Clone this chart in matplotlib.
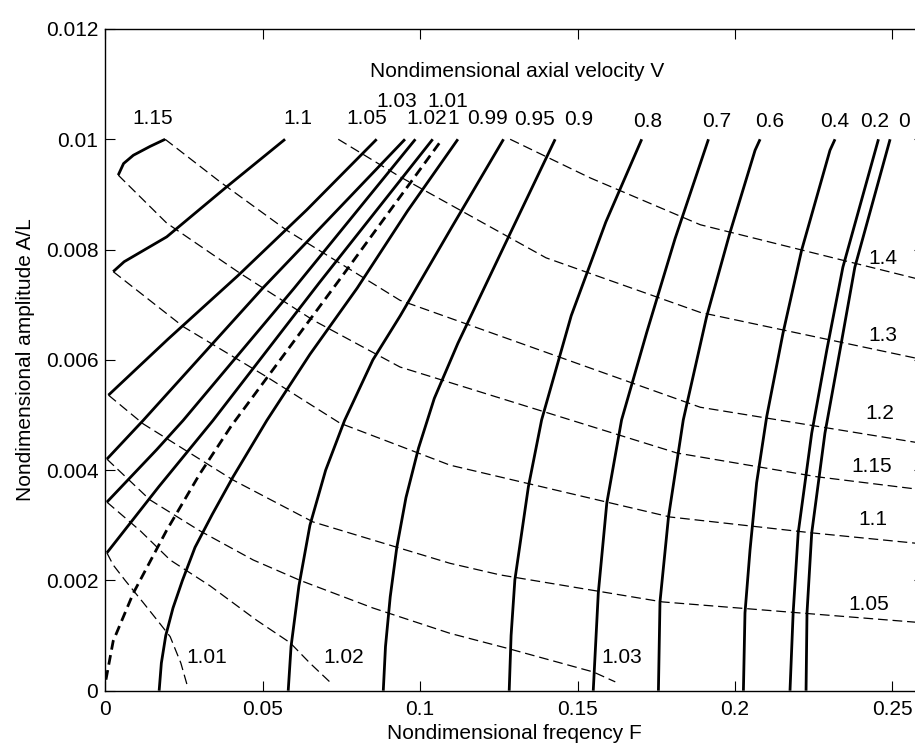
import matplotlib
matplotlib.use("Agg")

import matplotlib.pyplot as plt

plt.rcParams["font.family"] = ["Liberation Sans", "DejaVu Sans"]
plt.rcParams["lines.scale_dashes"] = False

# ---- stable branches (solid), V < 1 ----
v099_F = [0.0171, 0.0178, 0.0192, 0.0215, 0.0245, 0.0285, 0.034, 0.0406, 0.0513, 0.065, 0.080, 0.096, 0.112]
v099_A = [0.0, 0.0005, 0.0010, 0.0015, 0.0020, 0.0026, 0.0032, 0.00388, 0.0049, 0.0061, 0.0073, 0.0087, 0.0100]
v095_F = [0.0581, 0.0590, 0.0615, 0.0650, 0.0700, 0.0760, 0.0850, 0.0937, 0.110, 0.1265]
v095_A = [0.0, 0.0008, 0.0019, 0.0030, 0.0040, 0.0049, 0.0060, 0.0068, 0.0084, 0.0100]
v090_F = [0.0883, 0.0890, 0.0905, 0.0926, 0.0955, 0.0995, 0.1045, 0.112, 0.127, 0.1429]
v090_A = [0.0, 0.0008, 0.0017, 0.0026, 0.0035, 0.0044, 0.0053, 0.0063, 0.0081, 0.0100]
v080_F = [0.1283, 0.1289, 0.1301, 0.1344, 0.1386, 0.148, 0.159, 0.1704]
v080_A = [0.0, 0.0010, 0.00201, 0.0037, 0.00491, 0.0068, 0.0085, 0.0100]
v070_F = [0.155, 0.1566, 0.1593, 0.164, 0.172, 0.181, 0.1916]
v070_A = [0.0, 0.00177, 0.0034, 0.00491, 0.0065, 0.0082, 0.0100]
v060_F = [0.1757, 0.1762, 0.1789, 0.1836, 0.191, 0.1984, 0.2064, 0.208]
v060_A = [0.0, 0.00161, 0.00315, 0.00491, 0.00678, 0.0083, 0.0098, 0.0100]
v040_F = [0.2027, 0.2032, 0.2048, 0.2069, 0.2101, 0.2153, 0.2212, 0.2302, 0.2318]
v040_A = [0.0, 0.00141, 0.00255, 0.00377, 0.00497, 0.00649, 0.00799, 0.0098, 0.0100]
v020_F = [0.2175, 0.2185, 0.2201, 0.2244, 0.2292, 0.2343, 0.2456]
v020_A = [0.0, 0.00141, 0.00286, 0.00467, 0.00618, 0.00768, 0.0100]
v000_F = [0.2226, 0.2229, 0.2244, 0.2286, 0.2334, 0.2381, 0.2493]
v000_A = [0.0, 0.00141, 0.00286, 0.00467, 0.00618, 0.00768, 0.0100]

# ---- stable branches (solid), V > 1 ----
v115_F = [0.0041, 0.0058, 0.0089, 0.0142, 0.019]
v115_A = [0.00935, 0.00956, 0.00971, 0.00987, 0.0100]
v110_F = [0.0025, 0.0060, 0.0195, 0.0386, 0.0571]
v110_A = [0.0076, 0.00778, 0.00823, 0.00914, 0.0100]
v105_F = [0.001, 0.020, 0.042, 0.064, 0.0862]
v105_A = [0.00536, 0.00638, 0.00752, 0.00872, 0.0100]
v103_F = [0.0005, 0.012, 0.050, 0.0952]
v103_A = [0.0042, 0.0049, 0.0073, 0.0100]
v102_F = [0.0005, 0.0163, 0.0247, 0.060, 0.0985]
v102_A = [0.00342, 0.00437, 0.0049, 0.0073, 0.0100]
v101_F = [0.0005, 0.017, 0.0342, 0.068, 0.104]
v101_A = [0.0025, 0.0037, 0.0049, 0.0074, 0.0100]

# ---- critical V = 1 (thick dashed) ----
v100_F = [0.0002, 0.0025, 0.0089, 0.0195, 0.0301, 0.040, 0.075, 0.107]
v100_A = [0.0002, 0.0009, 0.00177, 0.00291, 0.00394, 0.0048, 0.0075, 0.0100]

# ---- unstable branches (thin dashed) ----
d101_F = [0.0005, 0.0025, 0.0063, 0.0120, 0.0173, 0.0206, 0.0240, 0.0260]
d101_A = [0.0025, 0.00228, 0.0020, 0.0016, 0.00122, 0.00098, 0.0005, 0.0001]
d102_F = [0.0005, 0.0111, 0.0206, 0.0333, 0.048, 0.0587, 0.065, 0.0713]
d102_A = [0.00342, 0.0029, 0.00237, 0.0019, 0.00128, 0.00087, 0.0005, 0.00016]
d103_F = [0.0005, 0.0142, 0.030, 0.047, 0.0619, 0.085, 0.1095, 0.1276, 0.155, 0.162]
d103_A = [0.0042, 0.00346, 0.0029, 0.00237, 0.0020, 0.0015, 0.00104, 0.00077, 0.00034, 0.00016]
d105_F = [0.001, 0.012, 0.0406, 0.066, 0.1095, 0.1254, 0.177, 0.26]
d105_A = [0.00536, 0.00484, 0.00382, 0.00306, 0.00231, 0.0021, 0.00161, 0.00123]
d110_F = [0.0025, 0.0248, 0.0513, 0.0746, 0.1095, 0.1794, 0.2248, 0.26]
d110_A = [0.0076, 0.0066, 0.00569, 0.00485, 0.00409, 0.00315, 0.00286, 0.00266]
d115_F = [0.0041, 0.0195, 0.0428, 0.066, 0.0936, 0.1816, 0.226, 0.26]
d115_A = [0.00935, 0.00848, 0.00757, 0.00672, 0.00587, 0.00431, 0.00388, 0.00364]
d120_F = [0.019, 0.0364, 0.0576, 0.0936, 0.189, 0.26]
d120_A = [0.0100, 0.00923, 0.00835, 0.00708, 0.00514, 0.00448]
d130_F = [0.074, 0.0936, 0.14, 0.189, 0.26]
d130_A = [0.0100, 0.00932, 0.00785, 0.00686, 0.00600]
d140_F = [0.1286, 0.154, 0.189, 0.26]
d140_A = [0.0100, 0.0093, 0.00845, 0.00744]

solid_curves = [
    (v099_F, v099_A), (v095_F, v095_A), (v090_F, v090_A), (v080_F, v080_A),
    (v070_F, v070_A), (v060_F, v060_A), (v040_F, v040_A), (v020_F, v020_A),
    (v000_F, v000_A), (v115_F, v115_A), (v110_F, v110_A), (v105_F, v105_A),
    (v103_F, v103_A), (v102_F, v102_A), (v101_F, v101_A),
]
dashed_curves = [
    (d101_F, d101_A), (d102_F, d102_A), (d103_F, d103_A), (d105_F, d105_A),
    (d110_F, d110_A), (d115_F, d115_A), (d120_F, d120_A), (d130_F, d130_A),
    (d140_F, d140_A),
]

# labels of V along the top (text, F, A, horizontal alignment)
top_labels = ["1.15", "1.1", "1.05", "1.03", "1.02", "1.01", "1", "0.99",
              "0.95", "0.9", "0.8", "0.7", "0.6", "0.4", "0.2", "0"]
top_label_F = [0.0149, 0.0612, 0.0831, 0.0927, 0.1086, 0.1087, 0.1086, 0.1213,
               0.1362, 0.1503, 0.1724, 0.1943, 0.2112, 0.2318, 0.2445, 0.2537]
top_label_A = [0.01037, 0.01037, 0.01037, 0.01068, 0.01037, 0.01068, 0.01037, 0.01037,
               0.01035, 0.01035, 0.01032, 0.01032, 0.01032, 0.01032, 0.01032, 0.01032]
top_label_ha = ["center", "center", "center", "center", "right", "center", "left", "center",
                "center", "center", "center", "center", "center", "center", "center", "center"]

# labels of the unstable branches
side_labels = ["1.4", "1.3", "1.2", "1.15", "1.1", "1.05", "1.01", "1.02", "1.03"]
side_label_F = [0.2469, 0.2469, 0.2461, 0.2436, 0.2439, 0.2426, 0.0323, 0.0758, 0.1642]
side_label_A = [0.00784, 0.00645, 0.00502, 0.00407, 0.0031, 0.00157, 0.00061, 0.00061, 0.00061]

fig = plt.figure(figsize=(9.15, 7.45), dpi=100)
ax = fig.add_axes([0.1151, 0.0729, 0.8945, 0.8882])

for F, A in solid_curves:
    ax.plot(F, A, color="black", lw=2.0, solid_capstyle="butt", solid_joinstyle="round")

ax.plot(v100_F, v100_A, color="black", lw=2.0, dashes=(7, 4))

for F, A in dashed_curves:
    ax.plot(F, A, color="black", lw=0.9, dashes=(7, 3.5))

for t, x, y, h in zip(top_labels, top_label_F, top_label_A, top_label_ha):
    ax.text(x, y, t, ha=h, va="center", fontsize=15)

for t, x, y in zip(side_labels, side_label_F, side_label_A):
    ax.text(x, y, t, ha="center", va="center", fontsize=15)

ax.text(0.1308, 0.01122, "Nondimensional axial velocity V", ha="center", va="center", fontsize=15)

ax.set_xlim(0, 0.26)
ax.set_ylim(0, 0.012)
ax.set_xticks([0, 0.05, 0.1, 0.15, 0.2, 0.25])
ax.set_xticklabels(["0", "0.05", "0.1", "0.15", "0.2", "0.25"])
ax.set_yticks([0, 0.002, 0.004, 0.006, 0.008, 0.01, 0.012])
ax.set_yticklabels(["0", "0.002", "0.004", "0.006", "0.008", "0.01", "0.012"])
ax.tick_params(direction="in", length=7, width=0.8, labelsize=15, top=True, right=True)
ax.tick_params(axis="x", pad=7)
ax.tick_params(axis="y", pad=5)
for s in ax.spines.values():
    s.set_linewidth(1.0)

ax.set_xlabel("Nondimensional freqency F", fontsize=15, labelpad=3)
ax.set_ylabel("Nondimensional amplitude A/L", fontsize=15, labelpad=8)

fig.savefig("out.png", dpi=100)
